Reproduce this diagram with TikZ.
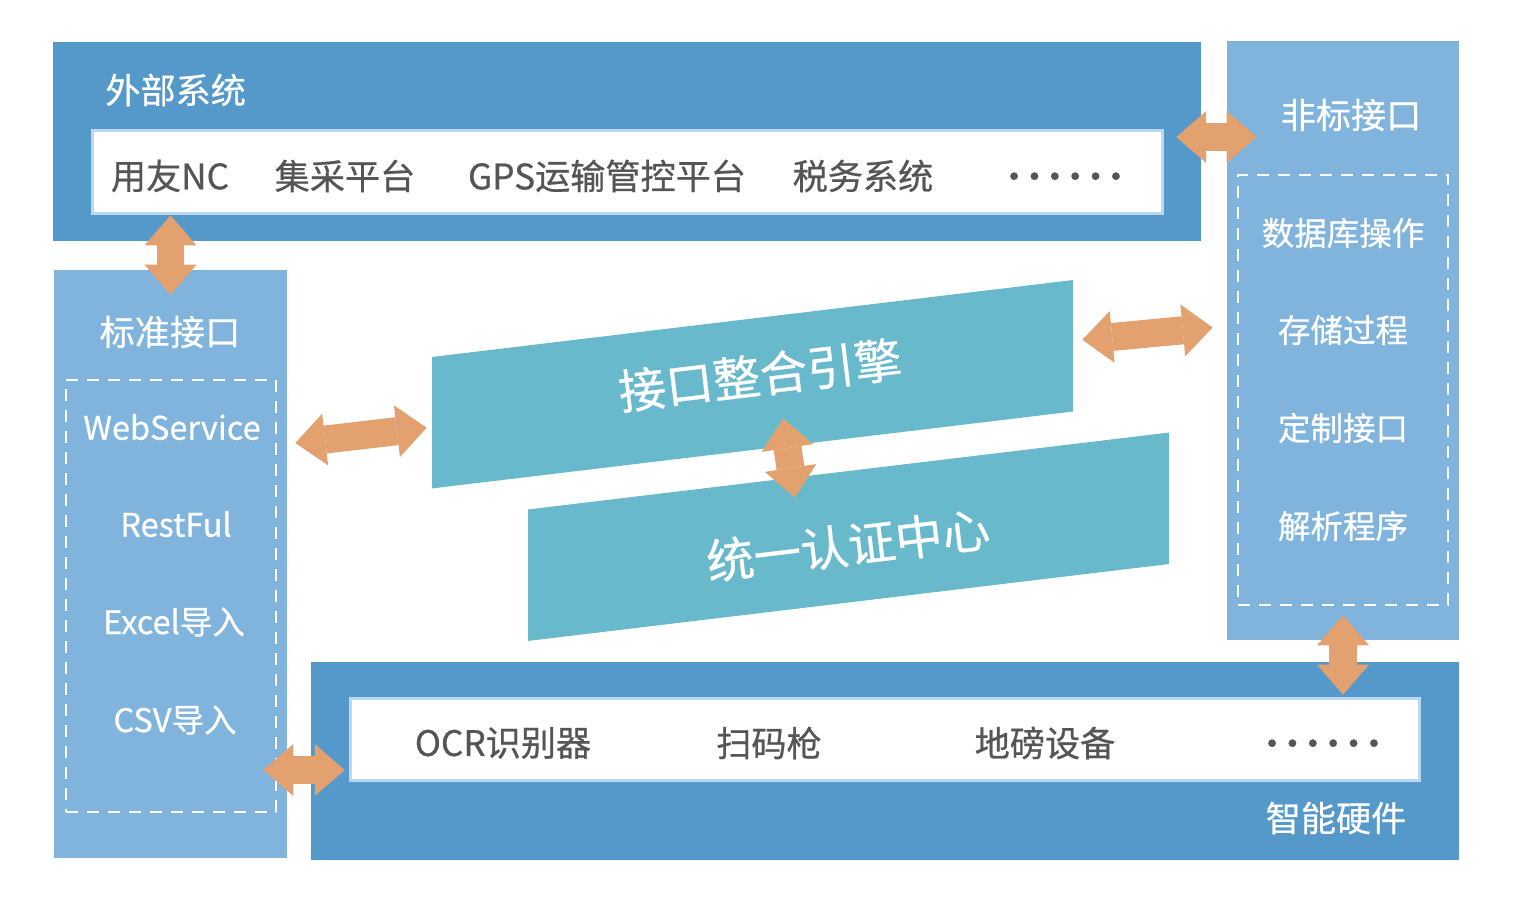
\documentclass[tikz,border=0pt]{standalone}
\usepackage{fontspec}
\setmainfont{Noto Sans CJK SC}[FakeBold=0.6]
\usetikzlibrary{arrows.meta, positioning, calc}
\definecolor{extblue}{RGB}{85,153,202}
\definecolor{ifblue}{RGB}{128,180,221}
\definecolor{engteal}{RGB}{105,185,204}
\definecolor{rimblue}{RGB}{188,216,238}
\definecolor{linkorange}{RGB}{227,161,111}
\definecolor{itemgray}{RGB}{85,85,85}
\newcommand{\dotrow}{\makebox[.58em]{·}\makebox[.58em]{·}\makebox[.58em]{·}\makebox[.58em]{·}\makebox[.58em]{·}\makebox[.58em]{·}}
\tikzset{
  sysbox/.style={rectangle, fill=extblue, inner sep=0pt},
  ifbox/.style={rectangle, fill=ifblue, inner sep=0pt},
  innerbox/.style={rectangle, fill=white, draw=rimblue, line width=0.06cm, inner sep=0pt},
  dashbox/.style={rectangle, draw=white, line width=0.05cm, dash pattern=on 0.24cm off 0.18cm, inner sep=0pt},
  engbox/.style={rectangle, fill=engteal, inner sep=0pt, minimum width=12.82cm, minimum height=2.63cm},
  title/.style={text=white, font=\fontsize{20}{24}\selectfont, inner sep=0pt},
  item/.style={text=itemgray, font=\fontsize{20}{24}\selectfont, inner sep=0pt},
  subitem/.style={text=white, font=\fontsize{18.5}{22}\selectfont, inner sep=0pt},
  bigtitle/.style={text=white, font=\fontsize{27}{32}\selectfont, rotate=6.85, inner sep=0pt},
  link/.style={>={Triangle[length=0.6cm, width=1.04cm, line width=0pt]}, <->, draw=linkorange, line width=0.56cm}
}

\begin{document}
\begin{tikzpicture}[x=0.02cm, y=-0.02cm]
    \useasboundingbox (0,0) rectangle (1519,912);
    % outer boxes
    \node[sysbox, minimum width=22.96cm, minimum height=3.98cm] (ext) at (627,141.5) {};
    \node[ifbox, minimum width=4.64cm, minimum height=11.98cm] (nonstd) at (1343,340.5) {};
    \node[ifbox, minimum width=4.66cm, minimum height=11.76cm] (std) at (170.5,564) {};
    \node[sysbox, minimum width=22.96cm, minimum height=3.96cm] (hw) at (885,761) {};
    \node[innerbox, minimum width=21.42cm, minimum height=1.68cm] (extin) at (627.5,172) {};
    \node[innerbox, minimum width=21.4cm, minimum height=1.66cm] (hwin) at (885,739.5) {};
    \node[dashbox, minimum width=4.2cm, minimum height=8.6cm] (nsdash) at (1343,390) {};
    \node[dashbox, minimum width=4.2cm, minimum height=8.64cm] (sdash) at (171,596) {};
    \node[engbox, yslant=0.12] (eng) at (752.5,384.25) {};
    \node[engbox, yslant=0.12] (auth) at (848.5,536.75) {};

    % titles
    \node[title, anchor=west] (exttl) at (105,90) {外部系统};
    \node[title] (nonstdtl) at (1351,115) {非标接口};
    \node[title] (stdtl) at (170,332) {标准接口};
    \node[title] (hwtl) at (1336,818) {智能硬件};
    \node[bigtitle] (engtl) at (760,375) {接口整合引擎};
    \node[bigtitle] (authtl) at (848,545) {统一认证中心};

    % external systems
    \node[item] (nc) at (170,176) {用友NC};
    \node[item] (jc) at (345,176) {集采平台};
    \node[item] (gps) at (607,176) {GPS运输管控平台};
    \node[item] (tax) at (863,176) {税务系统};
    \node[item] (extmore) at (1065,181) {\dotrow};

    % hardware
    \node[item] (ocr) at (503,743) {OCR识别器};
    \node[item] (scan) at (769,743) {扫码枪};
    \node[item] (scale) at (1045,743) {地磅设备};
    \node[item] (hwmore) at (1323,748) {\dotrow};

    % standard / non-standard interfaces
    \node[subitem] (ws) at (172,427) {WebService};
    \node[subitem] (rest) at (176,524) {RestFul};
    \node[subitem] (xls) at (174,622) {Excel导入};
    \node[subitem] (csv) at (175,720) {CSV导入};
    \node[subitem] (db) at (1343,233) {数据库操作};
    \node[subitem] (proc) at (1343,330) {存储过程};
    \node[subitem] (cust) at (1343,428) {定制接口};
    \node[subitem] (parse) at (1343,526) {解析程序};

    % links
    \draw[link, shorten <=-0.52cm, shorten >=-0.5cm] (std.north |- ext.south) -- (std.north);
    \draw[link, shorten <=-0.5cm, shorten >=-0.6cm] ([yshift=0.09cm]ext.east) -- ([yshift=0.09cm]ext.east -| nonstd.west);
    \draw[link] ([shift={(8,-121)}]std.east) -- ([shift={(-5,5)}]eng.west);
    \draw[link] ([shift={(9,-6)}]eng.east) -- ([shift={(-14,-13)}]nonstd.west);
    \draw[link] ([shift={(30.5,-32)}]eng.south) -- ([shift={(-53.5,27)}]auth.north);
    \draw[link, shorten <=-0.5cm, shorten >=-0.66cm] (nonstd.south) -- (nonstd.south |- hw.north);
    \draw[link, shorten <=-0.48cm, shorten >=-0.68cm] ([yshift=-0.18cm]hw.west -| std.east) -- ([yshift=-0.18cm]hw.west);
\end{tikzpicture}
\end{document}
